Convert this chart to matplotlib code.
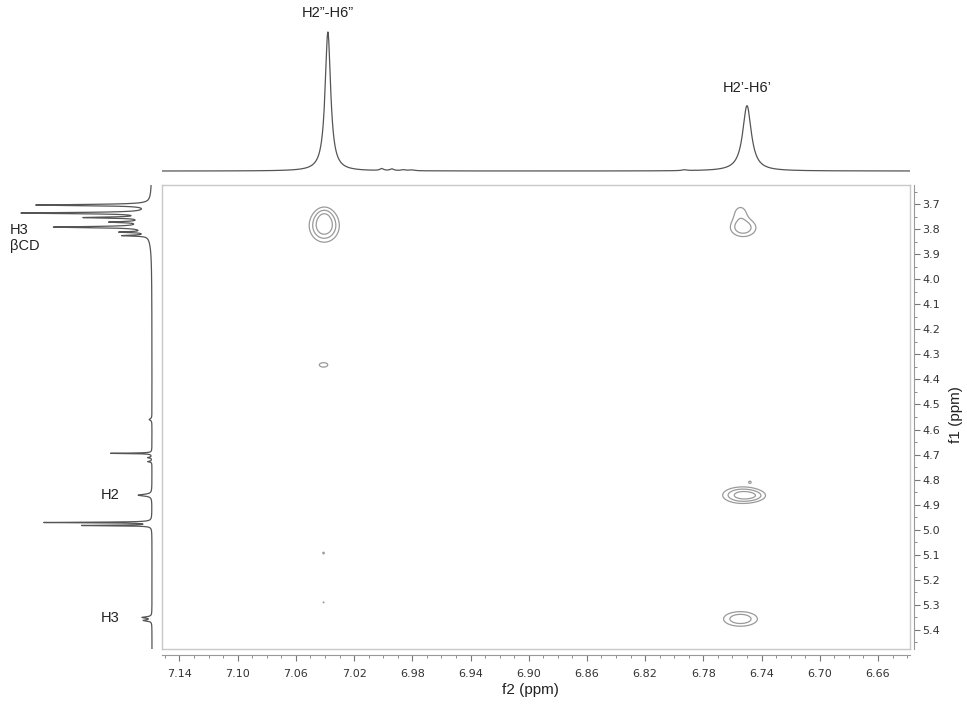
import numpy as np
import matplotlib
matplotlib.use("Agg")
import matplotlib.pyplot as plt
from matplotlib.ticker import FixedLocator, MultipleLocator, FormatStrFormatter

# limites de los ejes (ppm)
f2_lim = (7.152, 6.638)
f1_lim = (5.476, 3.624)
f2_ticks = [7.14, 7.10, 7.06, 7.02, 6.98, 6.94, 6.90, 6.86, 6.82, 6.78, 6.74, 6.70, 6.66]

# espectro 1D superior (f2): posicion, altura relativa, semiancho
sup_pos = [7.038, 6.750, 7.001, 6.994, 6.986, 6.980, 6.793]
sup_alt = [1.0, 0.47, 0.014, 0.012, 0.007, 0.006, 0.006]
sup_ancho = [0.0023, 0.0036, 0.0015, 0.0015, 0.002, 0.002, 0.002]
sup_etiquetas = ["H2\u201d-H6\u201d", "H2\u2019-H6\u2019"]
sup_etiq_y = [1.14, 0.60]

# espectro 1D lateral (f1)
lat_pos = [3.704, 3.736, 3.754, 3.772, 3.792, 3.812, 3.826, 3.78,
           4.56, 4.695, 4.712, 4.728, 4.862, 4.971, 4.983, 5.350, 5.362]
lat_alt = [0.82, 0.90, 0.42, 0.22, 0.64, 0.18, 0.18, 0.07,
           0.02, 0.30, 0.03, 0.03, 0.10, 0.78, 0.50, 0.07, 0.06]
lat_ancho = [0.0028, 0.0028, 0.0025, 0.0025, 0.0028, 0.0022, 0.0022, 0.04,
             0.004, 0.0012, 0.002, 0.002, 0.004, 0.0014, 0.0014, 0.003, 0.003]
lat_etiquetas = ["H3\n\u03b2CD", "H2", "H3"]
lat_etiq_f1 = [3.835, 4.862, 5.352]
lat_etiq_x = [1.03, 0.37, 0.37]

# picos de cruce (f2, f1, amplitud, sigma f2, sigma f1)
cruce_f2 = [7.0405, 7.0405, 6.7525, 6.7545, 7.0410, 7.0410, 7.0410, 6.7530, 6.7450, 6.7480, 6.7545]
cruce_f1 = [3.786, 3.750, 3.795, 3.745, 4.342, 5.093, 5.290, 4.862, 4.864, 4.810, 5.356]
cruce_amp = [1.0, 0.25, 0.50, 0.24, 0.22, 0.17, 0.16, 0.80, 0.20, 0.18, 0.55]
cruce_sf2 = [0.0053, 0.0035, 0.0055, 0.0040, 0.0033, 0.0010, 0.0010, 0.0075, 0.0050, 0.0012, 0.0072]
cruce_sf1 = [0.034, 0.022, 0.022, 0.032, 0.010, 0.007, 0.005, 0.018, 0.012, 0.006, 0.018]
niveles = [0.15, 0.33, 0.6]


def lorentz(x, pos, alt, ancho):
    y = np.zeros_like(x)
    for p, a, w in zip(pos, alt, ancho):
        y += a / (1 + ((x - p) / w) ** 2)
    return y


fig = plt.figure(figsize=(9.67, 7.08), dpi=100)
W, H = 967, 708
fuente = ["Liberation Sans", "DejaVu Sans"]

# mapa 2D
ax = fig.add_axes([162 / W, 1 - 649 / H, 748 / W, 464 / H])
x2 = np.linspace(f2_lim[1], f2_lim[0], 1200)
y1 = np.linspace(f1_lim[1], f1_lim[0], 1200)
X, Y = np.meshgrid(x2, y1)
Z = np.zeros_like(X)
for a, b, amp, sa, sb in zip(cruce_f2, cruce_f1, cruce_amp, cruce_sf2, cruce_sf1):
    Z += amp * np.exp(-0.5 * (((X - a) / sa) ** 2 + ((Y - b) / sb) ** 2))
ax.contour(X, Y, Z, levels=niveles, colors="#9a9a9a", linewidths=0.9)
ax.set_xlim(f2_lim)
ax.set_ylim(f1_lim)
ax.set_xticks([])
ax.set_yticks([])
for s in ax.spines.values():
    s.set_color("#c8c8c8")
    s.set_linewidth(1.0)

# ejes con escala
ejex = ax.secondary_xaxis(-0.013)
ejex.xaxis.set_major_locator(FixedLocator(f2_ticks))
ejex.xaxis.set_minor_locator(MultipleLocator(0.01))
ejex.xaxis.set_major_formatter(FormatStrFormatter("%.2f"))
ejex.tick_params(which="major", length=4, color="#777777", labelsize=8, labelcolor="#333333", pad=6)
ejex.tick_params(which="minor", length=2, color="#777777")
ejex.spines["bottom"].set_color("#999999")

ejey = ax.secondary_yaxis(1.0055)
ejey.yaxis.set_major_locator(MultipleLocator(0.1))
ejey.yaxis.set_minor_locator(MultipleLocator(0.05))
ejey.yaxis.set_major_formatter(FormatStrFormatter("%.1f"))
ejey.tick_params(which="major", length=4, color="#777777", labelsize=8, labelcolor="#333333", pad=2)
ejey.tick_params(which="minor", length=2, color="#777777")
ejey.spines["right"].set_color("#999999")

fig.text(530 / W, 1 - 690 / H, "f2 (ppm)", ha="center", va="center", fontsize=11,
         color="#222222", family=fuente)
fig.text(956 / W, 1 - 415 / H, "f1 (ppm)", ha="center", va="center", fontsize=11,
         rotation=90, color="#222222", family=fuente)

# espectro superior
ax_sup = fig.add_axes([162 / W, 1 - 178 / H, 748 / W, 178 / H])
xs = np.linspace(f2_lim[1], f2_lim[0], 4000)
ax_sup.plot(xs, lorentz(xs, sup_pos, sup_alt, sup_ancho), color="#555555", lw=0.9)
ax_sup.set_xlim(f2_lim)
ax_sup.set_ylim(-0.05, 1.23)
ax_sup.axis("off")
for p, t, ty in zip(sup_pos[:2], sup_etiquetas, sup_etiq_y):
    ax_sup.text(p, ty, t, ha="center", va="center", fontsize=10.5, color="#222222",
                family=fuente)

# espectro lateral
ax_lat = fig.add_axes([0, 1 - 649 / H, 160 / W, 464 / H])
ys = np.linspace(f1_lim[1] - 0.02, f1_lim[0], 6000)
ax_lat.plot(lorentz(ys, lat_pos, lat_alt, lat_ancho), ys, color="#555555", lw=0.9)
ax_lat.set_xlim(1.10, -0.058)
ax_lat.set_ylim(f1_lim)
ax_lat.axis("off")
for t, fy, fx in zip(lat_etiquetas, lat_etiq_f1, lat_etiq_x):
    ax_lat.text(fx, fy, t, ha="left", va="center", fontsize=10.5, color="#222222",
                linespacing=1.2, family=fuente)

fig.savefig("out.png", dpi=100)
